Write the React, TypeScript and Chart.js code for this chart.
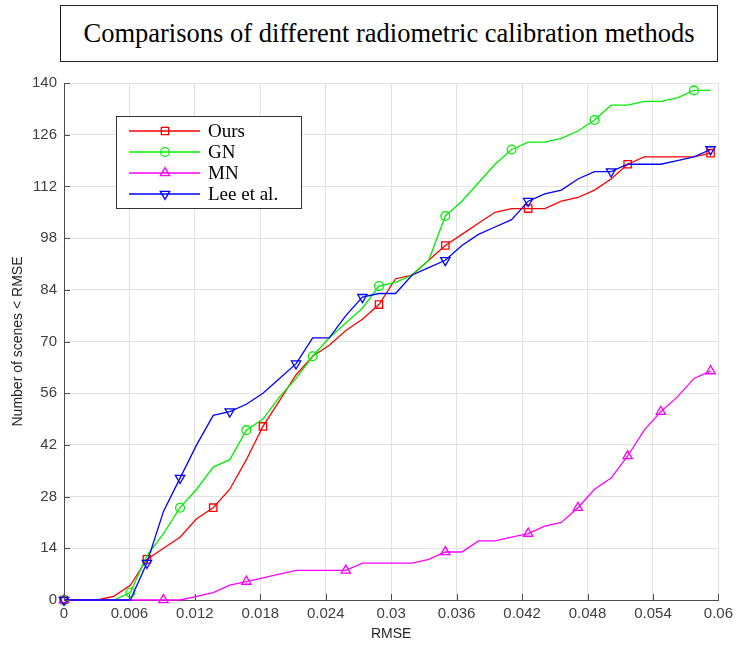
import React, { useEffect, useRef } from "react";
import { Chart, registerables } from "chart.js";

Chart.register(...registerables);

const chartTitle = "Comparisons of different radiometric calibration methods";
const xTitle = "RMSE";
const yTitle = "Number of scenes < RMSE";

const rmseGrid = [
  0, 0.00152, 0.00304, 0.00456, 0.00608, 0.0076, 0.00912, 0.01064, 0.01216, 0.01368,
  0.0152, 0.01672, 0.01824, 0.01976, 0.02128, 0.0228, 0.02432, 0.02584, 0.02736, 0.02888,
  0.0304, 0.03192, 0.03344, 0.03496, 0.03648, 0.038, 0.03952, 0.04104, 0.04256, 0.04408,
  0.0456, 0.04712, 0.04864, 0.05016, 0.05168, 0.0532, 0.05472, 0.05624, 0.05776, 0.05928,
];

const oursValues = [
  0, 0, 0, 1, 4, 11, 14, 17, 22, 25,
  30, 38, 47, 54, 61, 66, 69, 73, 76, 80,
  87, 88, 92, 96, 99, 102, 105, 106, 106, 106,
  108, 109, 111, 114, 118, 120, 120, 120, 120, 121,
];
const gnValues = [
  0, 0, 0, 0, 2, 12, 18, 25, 30, 36,
  38, 46, 49, 55, 60, 66, 71, 75, 79, 85,
  86, 88, 92, 104, 108, 113, 118, 122, 124, 124,
  125, 127, 130, 134, 134, 135, 135, 136, 138, 138,
];
const mnValues = [
  0, 0, 0, 0, 0, 0, 0, 0, 1, 2,
  4, 5, 6, 7, 8, 8, 8, 8, 10, 10,
  10, 10, 11, 13, 13, 16, 16, 17, 18, 20,
  21, 25, 30, 33, 39, 46, 51, 55, 60, 62,
];
const leeValues = [
  0, 0, 0, 0, 0, 10, 24, 33, 42, 50,
  51, 53, 56, 60, 64, 71, 71, 77, 82, 83,
  83, 88, 90, 92, 96, 99, 101, 103, 108, 110,
  111, 114, 116, 116, 118, 118, 118, 119, 120, 122,
];

const oursMarkers = [0, 5, 9, 12, 19, 23, 28, 34, 39];
const gnMarkers = [0, 4, 7, 11, 15, 19, 23, 27, 32, 38];
const mnMarkers = [0, 6, 11, 17, 23, 28, 31, 34, 36, 39];
const leeMarkers = [0, 5, 7, 10, 14, 18, 23, 28, 33, 39];

const xTickValues = [0, 0.006, 0.012, 0.018, 0.024, 0.03, 0.036, 0.042, 0.048, 0.054, 0.06];
const xTickLabels = ["0", "0.006", "0.012", "0.018", "0.024", "0.03", "0.036", "0.042", "0.048", "0.054", "0.06"];
const yTickValues = [0, 14, 28, 42, 56, 70, 84, 98, 112, 126, 140];
const yTickLabels = ["0", "14", "28", "42", "56", "70", "84", "98", "112", "126", "140"];

const seriesNames = ["Ours", "GN", "MN", "Lee et al."];

type Series = {
  label: string;
  values: number[];
  markers: number[];
  color: string;
  style: string;
  r: number;
  rot: number;
  order: number;
};

const series: Series[] = [
  { label: seriesNames[0], values: oursValues, markers: oursMarkers, color: "#ff0000", style: "rect", r: 5.2, rot: 0, order: 3 },
  { label: seriesNames[1], values: gnValues, markers: gnMarkers, color: "#00f000", style: "circle", r: 4.4, rot: 0, order: 2 },
  { label: seriesNames[2], values: mnValues, markers: mnMarkers, color: "#ff00ff", style: "triangle", r: 5.4, rot: 0, order: 1 },
  { label: seriesNames[3], values: leeValues, markers: leeMarkers, color: "#0000ff", style: "triangle", r: 5.4, rot: 180, order: 0 },
];

function drawMarker(ctx: CanvasRenderingContext2D, style: string, x: number, y: number, r: number, rot: number) {
  ctx.beginPath();
  if (style === "rect") {
    const s = r * Math.SQRT1_2;
    ctx.rect(x - s, y - s, 2 * s, 2 * s);
  } else if (style === "circle") {
    ctx.arc(x, y, r, 0, Math.PI * 2);
  } else {
    let rad = (rot * Math.PI) / 180;
    ctx.moveTo(x + Math.sin(rad) * r, y - Math.cos(rad) * r);
    rad += (2 * Math.PI) / 3;
    ctx.lineTo(x + Math.sin(rad) * r, y - Math.cos(rad) * r);
    rad += (2 * Math.PI) / 3;
    ctx.lineTo(x + Math.sin(rad) * r, y - Math.cos(rad) * r);
    ctx.closePath();
  }
  ctx.stroke();
}

const decorPlugin = {
  id: "decor",
  afterDraw(chart: any) {
    const ctx: CanvasRenderingContext2D = chart.ctx;
    const { left, right, top, bottom } = chart.chartArea;
    const xs = chart.scales.x;
    const ys = chart.scales.y;
    ctx.save();
    // inward tick marks
    ctx.strokeStyle = "#4d4d4d";
    ctx.lineWidth = 1;
    ctx.beginPath();
    yTickValues.forEach((v) => {
      const y = Math.round(ys.getPixelForValue(v)) + 0.5;
      ctx.moveTo(left, y);
      ctx.lineTo(left + 6, y);
    });
    xTickValues.forEach((v) => {
      const x = Math.round(xs.getPixelForValue(v)) + 0.5;
      ctx.moveTo(x, bottom);
      ctx.lineTo(x, bottom - 6);
    });
    ctx.stroke();

    // axis titles
    ctx.fillStyle = "#262626";
    ctx.font = '14px "Liberation Sans", Arial, sans-serif';
    ctx.textAlign = "center";
    ctx.textBaseline = "middle";
    ctx.fillText(xTitle, (left + right) / 2, 634);
    ctx.save();
    ctx.translate(18, (top + bottom) / 2);
    ctx.rotate(-Math.PI / 2);
    ctx.fillText(yTitle, 0, 0);
    ctx.restore();

    // legend
    const bx = 116, by = 116, bw = 185, bh = 92;
    ctx.fillStyle = "#ffffff";
    ctx.fillRect(bx, by, bw, bh);
    ctx.strokeStyle = "#333333";
    ctx.lineWidth = 1;
    ctx.strokeRect(bx + 0.5, by + 0.5, bw, bh);
    const rowY = [131, 152, 173, 194];
    ctx.font = '19px "Liberation Serif", "Times New Roman", serif';
    ctx.textAlign = "left";
    ctx.textBaseline = "middle";
    series.forEach((s, i) => {
      const y = rowY[i];
      ctx.strokeStyle = s.color;
      ctx.lineWidth = 1.3;
      ctx.beginPath();
      ctx.moveTo(129, y);
      ctx.lineTo(200, y);
      ctx.stroke();
      drawMarker(ctx, s.style, 165, y, s.r, s.rot);
      ctx.fillStyle = "#000000";
      ctx.fillText(s.label, 208, y + 1);
    });
    ctx.restore();
  },
};

export default function App() {
  const canvasRef = useRef<HTMLCanvasElement>(null);

  useEffect(() => {
    const canvas = canvasRef.current;
    if (!canvas) return;
    const tickFont = { family: '"Liberation Sans", Arial, sans-serif', size: 15 };
    const chart = new Chart(canvas, {
      type: "line",
      data: {
        datasets: series.map((s) => ({
          label: s.label,
          data: rmseGrid.map((x, i) => ({ x, y: s.values[i] })),
          borderColor: s.color,
          borderWidth: 1.3,
          backgroundColor: "rgba(0,0,0,0)",
          fill: false,
          tension: 0,
          pointStyle: s.style as any,
          pointRotation: s.rot,
          pointRadius: rmseGrid.map((_, i) => (s.markers.includes(i) ? s.r : 0)),
          pointHoverRadius: 0,
          pointBorderColor: s.color,
          pointBackgroundColor: "rgba(0,0,0,0)",
          pointBorderWidth: 1.3,
          order: s.order,
          clip: false as any,
        })),
      },
      options: {
        animation: false,
        responsive: false,
        maintainAspectRatio: false,
        events: [],
        layout: { padding: { top: 83, right: 18, left: 0, bottom: 0 } },
        plugins: {
          legend: { display: false },
          title: { display: false },
          tooltip: { enabled: false },
        },
        scales: {
          x: {
            type: "linear",
            min: 0,
            max: 0.06,
            afterBuildTicks: (scale: any) => {
              scale.ticks = xTickValues.map((v) => ({ value: v }));
            },
            afterFit: (scale: any) => {
              scale.height = 49;
            },
            ticks: {
              callback: (_v: any, i: number) => xTickLabels[i],
              color: "#404040",
              font: tickFont,
              padding: 5,
              maxRotation: 0,
              autoSkip: false,
            },
            grid: { color: "#e2e2e2", lineWidth: 1, drawTicks: false },
            border: { display: true, color: "#4d4d4d", width: 1 },
          },
          y: {
            type: "linear",
            min: 0,
            max: 140,
            afterBuildTicks: (scale: any) => {
              scale.ticks = yTickValues.map((v) => ({ value: v }));
            },
            afterFit: (scale: any) => {
              scale.width = 64;
            },
            ticks: {
              callback: (_v: any, i: number) => yTickLabels[i],
              color: "#404040",
              font: tickFont,
              padding: 7,
              autoSkip: false,
            },
            grid: { color: "#e2e2e2", lineWidth: 1, drawTicks: false },
            border: { display: true, color: "#4d4d4d", width: 1 },
          },
        },
      },
      plugins: [decorPlugin],
    });
    return () => chart.destroy();
  }, []);

  return (
    <div style={{ position: "absolute", left: 0, top: 0, width: 738, height: 649, background: "#ffffff" }}>
      <div
        style={{
          position: "absolute",
          left: 60,
          top: 5,
          width: 658,
          height: 57,
          boxSizing: "border-box",
          border: "1.5px solid #222",
          display: "flex",
          alignItems: "center",
          justifyContent: "center",
          fontFamily: '"Liberation Serif", "Times New Roman", serif',
          fontSize: 26.5,
          color: "#000",
        }}
      >
        {chartTitle}
      </div>
      <canvas
        ref={canvasRef}
        width={738}
        height={649}
        style={{ position: "absolute", left: 0, top: 0, display: "block" }}
      />
    </div>
  );
}
